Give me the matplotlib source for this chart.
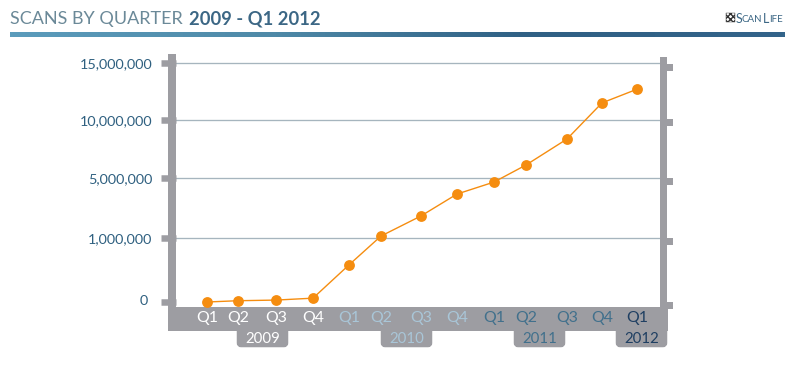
import numpy as np
import matplotlib
matplotlib.use('Agg')
import matplotlib.pyplot as plt
from matplotlib.patches import Rectangle, FancyBboxPatch
from matplotlib.transforms import ScaledTranslation

# values
quarters = ['Q1', 'Q2', 'Q3', 'Q4', 'Q1', 'Q2', 'Q3', 'Q4', 'Q1', 'Q2', 'Q3', 'Q4', 'Q1']
scans = [0, 20000, 30000, 60000, 580000, 1130000, 2470000, 3930000,
         4730000, 6120000, 8360000, 11500000, 12700000]
y_ticks = [0, 1000000, 5000000, 10000000, 15000000]
y_labels = ['0', '1,000,000', '5,000,000', '10,000,000', '15,000,000']
years = ['2009', '2010', '2011', '2012']

GRAY = '#9d9da2'
ORANGE = '#f58d10'
quarter_colors = ['white'] * 4 + ['#a9c6d8'] * 4 + ['#41708c'] * 4 + ['#1f3f62']
year_colors = ['white', '#a9c6d8', '#41708c', '#1f3f62']

# layout in pixels
quarter_px = [207, 238, 276, 313, 349, 381, 421, 457, 494, 526, 567, 602, 637]
y_tick_px = [302, 238, 178, 120, 63]
year_px = [236, 380, 513, 615]
right_tick_px = [67, 122, 181, 241, 305]

plt.rcParams['font.family'] = ['Lato', 'DejaVu Sans']
fig = plt.figure(figsize=(8, 3.74), dpi=100)

# full figure axes in pixel coordinates, for the frame and header
bg = fig.add_axes([0, 0, 1, 1])
bg.set_xlim(0, 800)
bg.set_ylim(374, 0)
bg.axis('off')

# header
bg.text(10, 19, 'SCANS BY QUARTER', fontsize=13, color='#6b8998', va='center')
bg.text(189, 19, '2009 - Q1 2012', fontsize=13.2, color='#3c6785',
        fontweight='bold', va='center')
gradient = np.linspace(0, 1, 256).reshape(1, -1)
cmap = matplotlib.colors.LinearSegmentedColormap.from_list(
    'bar', ['#5b9cbc', '#4f8aa8', '#2f6084', '#33648a'])
bg.imshow(gradient, extent=[10, 785, 36.5, 32], aspect='auto', cmap=cmap)
bg.set_xlim(0, 800)
bg.set_ylim(374, 0)

# logo
bg.add_patch(Rectangle((726, 13), 9, 9, facecolor='white', edgecolor='#333333',
                       hatch='xxxxxx', linewidth=0.3))
bg.text(736, 18.5, 'S', fontsize=9, color='#3c6785', va='center')
bg.text(742, 19, 'CAN', fontsize=7, color='#3c6785', va='center')
bg.text(763, 18.5, 'L', fontsize=9, color='#3c6785', va='center')
bg.text(769, 19, 'IFE', fontsize=7, color='#3c6785', va='center')

# grey frame
bg.add_patch(Rectangle((168, 54), 8, 254, color=GRAY, linewidth=0))
bg.add_patch(Rectangle((660, 57), 7, 251, color=GRAY, linewidth=0))
bg.add_patch(Rectangle((168, 307), 499.5, 24, color=GRAY, linewidth=0))
for py in right_tick_px:
    bg.add_patch(Rectangle((667, py - 3), 6, 6.5, color=GRAY, linewidth=0))
for px, year, col in zip(year_px, years, year_colors):
    bg.add_patch(FancyBboxPatch((px + 2, 327), 49, 19, boxstyle='round,pad=0,rounding_size=3',
                                mutation_aspect=1, facecolor=GRAY, edgecolor=GRAY, linewidth=2.5 * 0.72))
    bg.text(px + 26.5, 339, year, fontsize=10.8, color=col, ha='center', va='center')

# chart axes, pixel box 176-660 / 55-307
ax = fig.add_axes([176 / 800, 1 - 307 / 374, 484 / 800, 252 / 374])
ax.patch.set_alpha(0)

x_index = np.arange(len(quarters))
x_from = np.r_[-1, x_index, len(quarters)]
x_to = np.r_[176, quarter_px, 660].astype(float)
ax.set_xscale('function', functions=(lambda v: np.interp(v, x_from, x_to),
                                     lambda p: np.interp(p, x_to, x_from)))
ax.set_xlim(-1, len(quarters))

# the value axis is not linear: ticks are evenly spaced
y_from = np.r_[-80000, y_ticks, 15700000].astype(float)
y_to = -np.r_[307, y_tick_px, 55].astype(float)
ax.set_yscale('function', functions=(lambda v: np.interp(v, y_from, y_to),
                                     lambda p: np.interp(p, y_to, y_from)))
ax.set_ylim(-80000, 15700000)

ax.plot(x_index, scans, color=ORANGE, linewidth=1.0, marker='o', markersize=7.8,
        markeredgewidth=0, clip_on=False, zorder=5)

ax.set_yticks(y_ticks)
ax.set_yticklabels(y_labels, fontsize=10.4, color='#2f6080')
ax.tick_params(axis='y', length=15 * 0.72, width=6.5 * 0.72, color=GRAY, pad=6)
ax.set_xticks(x_index)
ax.set_xticklabels(quarters, fontsize=11.4)
ax.minorticks_off()
ax.tick_params(axis='x', length=0, pad=3)
for label, col in zip(ax.get_xticklabels(), quarter_colors):
    label.set_color(col)

# the 0 label sits further left and a little higher
zero_label = ax.get_yticklabels()[0]
zero_label.set_transform(zero_label.get_transform() +
                         ScaledTranslation(-5 / 100, 2 / 100, fig.dpi_scale_trans))

ax.grid(axis='y', color='#a6b5be', linewidth=0.95)
ax.set_axisbelow(True)
ax.get_ygridlines()[0].set_visible(False)
for spine in ax.spines.values():
    spine.set_visible(False)

fig.savefig('out.png', dpi=100)
